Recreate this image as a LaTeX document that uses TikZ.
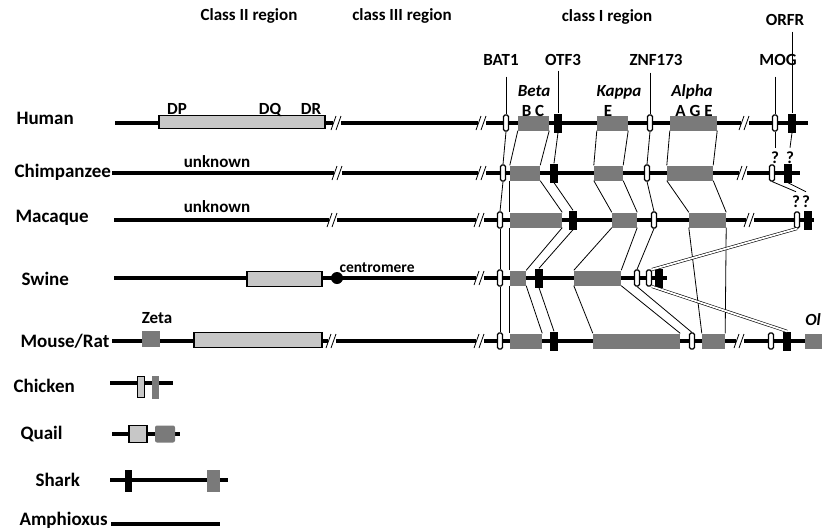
\documentclass[tikz,border=0pt]{standalone}
\usepackage{fontspec}
\setmainfont{Carlito}
\usepackage{tikz}

\begin{document}
\begin{tikzpicture}[x=1pt, y=-1pt,
    chrom/.style={line width=3.5pt},
    classII/.style={draw=black, line width=1.6pt, fill=black!22, inner sep=0pt, minimum height=15pt},
    gbox/.style={fill=black!52, inner sep=0pt, minimum height=15pt},
    wbox/.style={draw=black, fill=white, line width=1.1pt, rounded corners=1.5pt, inner sep=0pt, minimum width=5pt, minimum height=16pt},
    bbox/.style={fill=black, inner sep=0pt, minimum width=8pt, minimum height=19pt},
    link/.style={line width=0.8pt},
    dlink/.style={double, double distance=1.8pt, line width=0.6pt},
    species/.style={anchor=base west, font=\fontsize{19}{22}\selectfont\bfseries},
    region/.style={anchor=base, font=\fontsize{17}{20}\selectfont\bfseries},
    gname/.style={anchor=base, font=\fontsize{17}{20}\selectfont\bfseries\itshape}
]
\useasboundingbox (0,0) rectangle (822,531);

% Species names
\node[species] (nHuman) at (13,124) {Human};
\node[species] (nChimp) at (11,177) {Chimpanzee};
\node[species] (nMacaque) at (12,222) {Macaque};
\node[species] (nSwine) at (18,285) {Swine};
\node[species] (nMouse) at (17,347) {Mouse/Rat};
\node[species] (nChicken) at (10,392) {Chicken};
\node[species] (nQuail) at (17,439) {Quail};
\node[species] (nShark) at (32,486) {Shark};
\node[species] (nAmphi) at (16,525) {Amphioxus};

% Chromosome lines
\foreach \y/\xa/\xb in {123/115/808, 173/112/800, 220/114/814, 278/114/667, 341/112/830,
                        383/110/173, 434/112/180, 480/110/228, 524/111/220}
    \draw[chrom] (\xa,\y) -- (\xb,\y);

% Breaks
\foreach \x/\y in {337/123, 482/123, 745/123, 338/173, 482/173, 743/173,
                   333/220, 480/220, 750/220, 480/278, 332/341, 480/341, 740/341} {
    \fill[white] (\x-4,\y-3) rectangle (\x+4,\y+3);
    \draw[line width=0.8pt] (\x-6,\y+7) -- (\x-1,\y-7) (\x-1,\y+7) -- (\x+4,\y-7);
}

% Region titles
\node[region] (tII) at (249,20) {Class II region};
\node[region] (tIII) at (402,20) {class III region};
\node[region] (tI) at (607,21) {class I region};
\node[region] (lORFR) at (785,25) {ORFR};

% Marker genes
\node[region] (lBAT) at (501,65) {BAT1};
\node[region] (lOTF) at (563,65) {OTF3};
\node[region] (lZNF) at (656,65) {ZNF173};
\node[region] (lMOG) at (778,65) {MOG};

% Class II blocks
\node[classII, minimum width=166pt, minimum height=13pt] (hII) at (242,122) {};
\node[classII, minimum width=75pt] (sII) at (284.5,279) {};
\node[classII, minimum width=128pt] (rII) at (258,340) {};
\node[gbox, minimum width=18pt, minimum height=16pt] (rZeta) at (151,339) {};
\node[circle, fill=black, inner sep=0pt, minimum size=12pt] (sCen) at (337,278) {};

% Class I genes in all five rows
\foreach \row/\y/\bat/\bc/\bw/\otf/\kc/\kw/\znf in {
        h/123/506/533.5/31/558/612.5/31/650,
        c/173/503/525/30/554/608.5/29/647,
        m/220/500/536/52/573/624.5/25/654,
        s/278/500/518/16/539/597.5/47/637,
        r/341/500/526/32/554/636.5/87/692} {
    \node[wbox] (\row BAT) at (\bat,\y) {};
    \node[gbox, minimum width=\bw pt] (\row Beta) at (\bc,\y) {};
    \node[bbox] (\row OTF) at (\otf,\y) {};
    \node[gbox, minimum width=\kw pt] (\row Kappa) at (\kc,\y) {};
    \node[wbox] (\row ZNF) at (\znf,\y) {};
}
\foreach \row/\y/\ac/\aw in {h/123/693.5/47, c/173/690/46, m/220/707.5/37, r/341/713.5/23}
    \node[gbox, minimum width=\aw pt] (\row Alpha) at (\ac,\y) {};
\foreach \row/\y/\mog/\orf in {h/123/775/792, c/173/772/788, m/220/797/808, s/278/649/659, r/341/771/787} {
    \node[wbox, minimum width=\ifx\row s7pt\else5pt\fi] (\row MOG) at (\mog,\y) {};
    \node[bbox] (\row ORFR) at (\orf,\y) {};
}
\node[gbox, minimum width=21pt] (rOl) at (815.5,341) {};

% Gene labels
\node[gname] (tBeta) at (534,96) {Beta};
\node[gname] (tKappa) at (619,96) {Kappa};
\node[gname] (tAlpha) at (692,96) {Alpha};
\node[region] (tBC) at (533,116) {B C};
\node[region] (tE) at (608,116) {E};
\node[region] (tAGE) at (694,116) {A G E};
\node[region] (tDP) at (177,114) {DP};
\node[region] (tDQ) at (270,114) {DQ};
\node[region] (tDR) at (311,114) {DR};
\node[region] (tUnkC) at (217,167) {unknown};
\node[region] (tUnkM) at (217,212) {unknown};
\node[anchor=base west, font=\fontsize{15.5}{18}\selectfont\bfseries] (tCen) at (336,272) {centromere};
\node[region] (tZeta) at (157,323) {Zeta};
\node[region] (cQ1) at (775,163) {?};
\node[region] (cQ2) at (790,163) {?};
\node[region] (mQ1) at (796,207) {?};
\node[region] (mQ2) at (806,207) {?};
\node[gname, anchor=base east, inner xsep=1pt] (tOl) at (822,325) {Ol};

% Lines from marker labels
\draw[link, shorten <=8pt] (lBAT.south -| hBAT) -- (hBAT.north);
\draw[link, shorten <=2pt] (lOTF.south -| hOTF) -- (hOTF.north);
\draw[link, shorten <=4pt] (lZNF.south -| hZNF) -- (hZNF.north);
\draw[link, shorten <=8pt] (lMOG.south -| hMOG) -- (hMOG.north);
\draw[link, shorten <=3pt] (lORFR.south -| hORFR) -- (hORFR.north);

% Orthologous blocks between rows
\foreach \a/\b in {h/c, c/m, m/s, s/r} {
    \draw[link] (\a BAT.south) -- (\b BAT.north);
    \draw[link] (\a Beta.south west) -- (\b Beta.north west);
    \draw[link] (\a Beta.south east) -- (\b Beta.north east);
    \draw[link] (\a OTF.south) -- (\b OTF.north);
    \draw[link] (\a Kappa.south west) -- (\b Kappa.north west);
    \draw[link] (\a Kappa.south east) -- (\b Kappa.north east);
    \draw[link] (\a ZNF.south) -- (\b ZNF.north);
}
\foreach \a/\b in {h/c, c/m, m/r} {
    \draw[link] (\a Alpha.south west) -- (\b Alpha.north west);
    \draw[link] (\a Alpha.south east) -- (\b Alpha.north east);
}
\draw[link] (hMOG.south) -- (cQ1.north);
\draw[link] (hORFR.south) -- (cQ2.north);
\draw[link] (cMOG.south) -- (mQ1.north);
\draw[link] (cORFR.south) -- (mQ2.north);
\draw[dlink] (mMOG.south) -- (sMOG.north east);
\draw[dlink] (sMOG.south east) -- (rORFR.north);

% Chicken, quail, shark
\node[classII, line width=1pt, minimum width=7pt, minimum height=21pt] (chA) at (140.5,387) {};
\node[gbox, minimum width=7pt, minimum height=23pt] (chB) at (155.5,387) {};
\node[classII, line width=1.2pt, minimum width=18pt, minimum height=17pt] (qA) at (138,434) {};
\node[gbox, rounded corners=2pt, minimum width=20pt, minimum height=17pt] (qB) at (165,434) {};
\node[bbox, minimum width=7pt, minimum height=22pt] (shA) at (128.5,481) {};
\node[gbox, minimum width=13pt, minimum height=22pt] (shB) at (213.5,481) {};
\end{tikzpicture}
\end{document}
